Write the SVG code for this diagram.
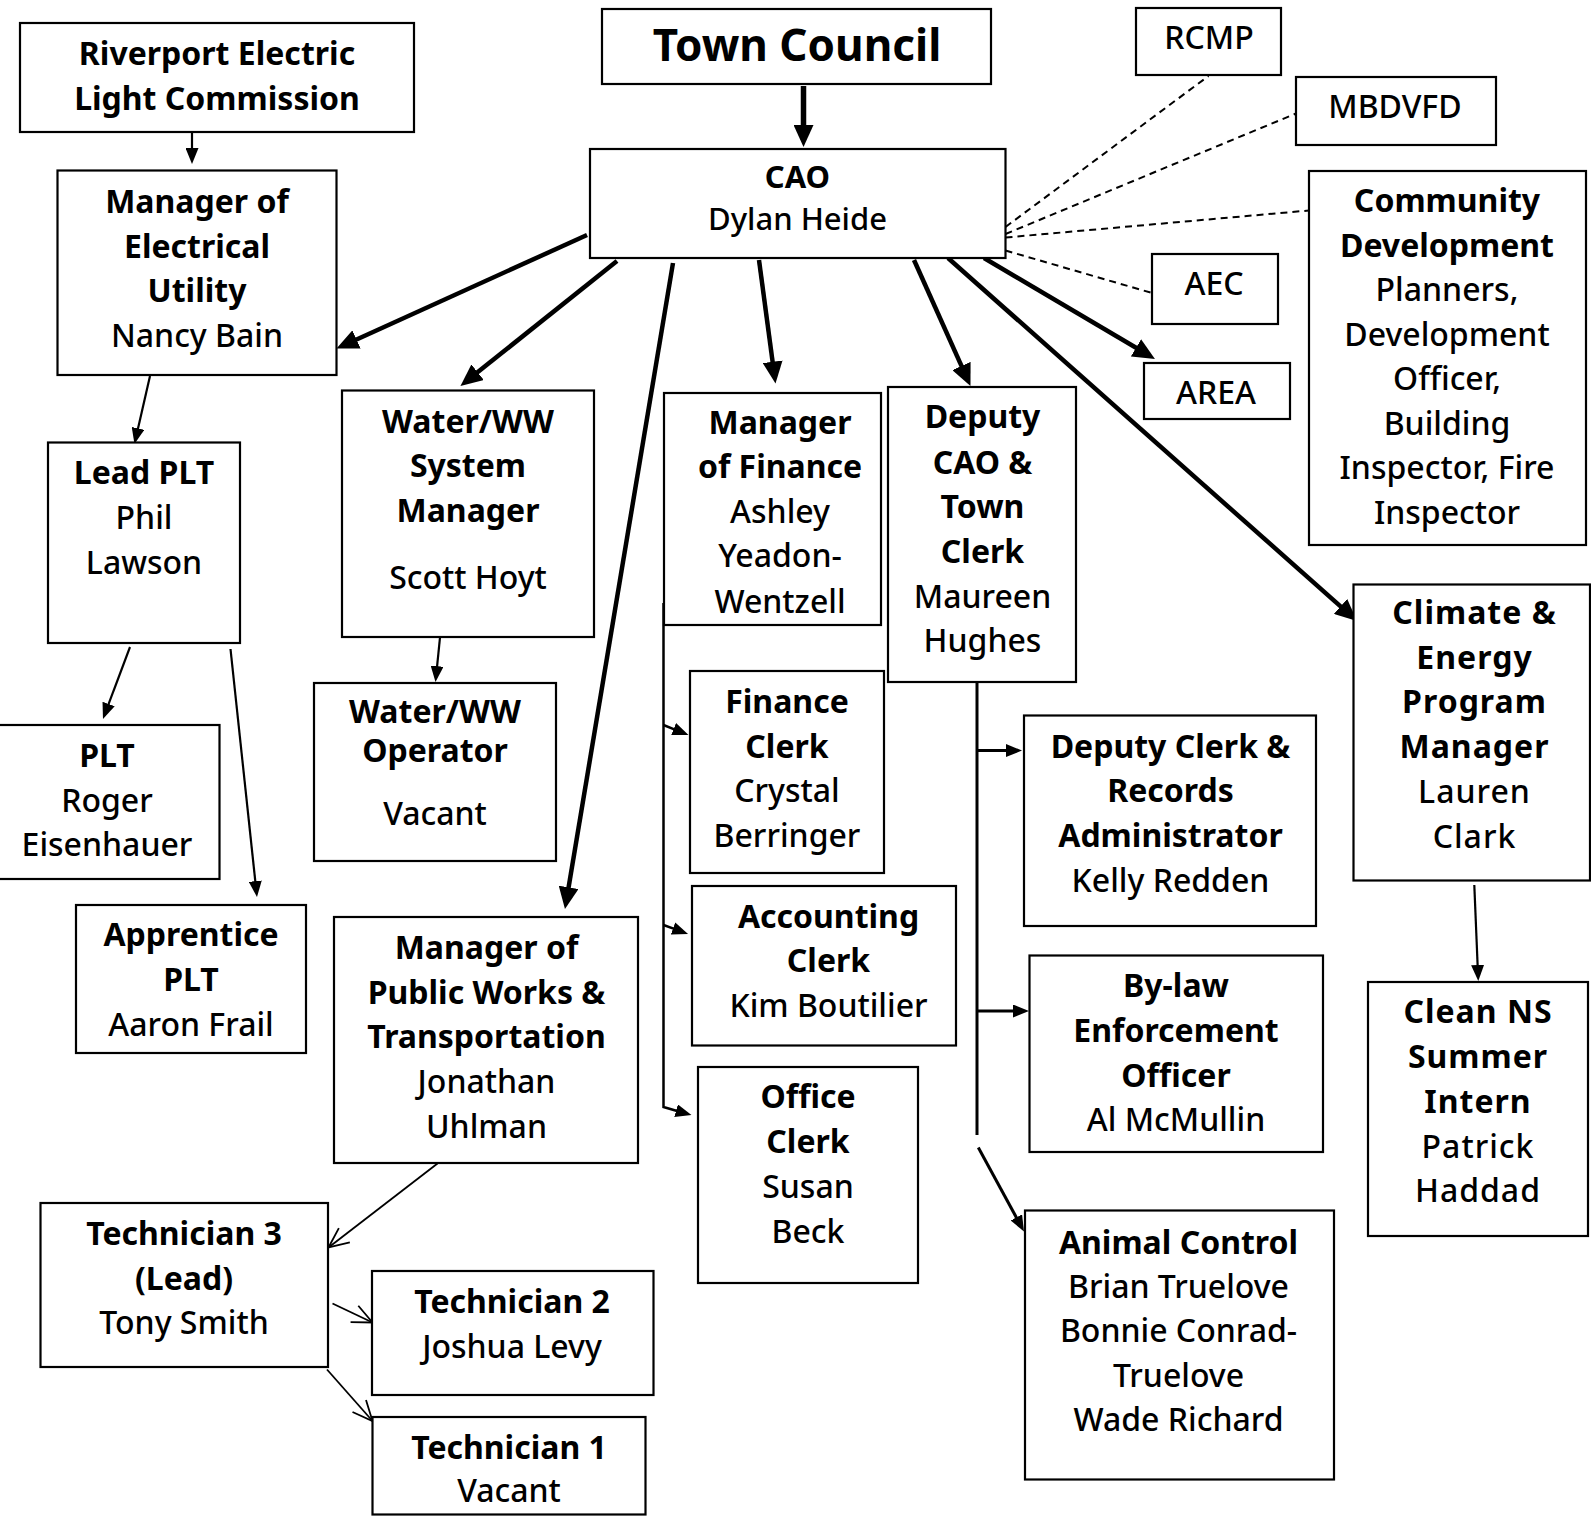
<svg xmlns="http://www.w3.org/2000/svg" width="1591" height="1522" viewBox="0 0 1591 1522">
<style>
.box{fill:#fff;stroke:#000;stroke-width:2.2}
text{font-family:"Noto Sans","Open Sans","DejaVu Sans",sans-serif;font-size:32px;fill:#000;text-anchor:middle}
.b{font-weight:700}
.r{font-weight:500}
.title{font-size:44px;font-weight:700}
.ls text{letter-spacing:1px}
.thick{stroke:#000;stroke-width:4.5;fill:none;marker-end:url(#ahThick)}
.thin{stroke:#000;stroke-width:2.2;fill:none;marker-end:url(#ahSmall)}
.med{stroke:#000;stroke-width:3;fill:none}
.open{stroke:#000;stroke-width:1.8;fill:none;marker-end:url(#ahOpen)}
.dash{stroke:#000;stroke-width:2;fill:none;stroke-dasharray:7 5}
</style>
<defs>
<marker id="ahThick" markerUnits="userSpaceOnUse" viewBox="0 0 22 20" markerWidth="22" markerHeight="20" refX="3" refY="10" orient="auto"><path d="M0,0 L22,10 L0,20 z" fill="#000"/></marker>
<marker id="ahSmall" markerUnits="userSpaceOnUse" viewBox="0 0 16 13" markerWidth="16" markerHeight="13" refX="2" refY="6.5" orient="auto"><path d="M0,0 L16,6.5 L0,13 z" fill="#000"/></marker>
<marker id="ahOpen" markerUnits="userSpaceOnUse" viewBox="-2 -2 24 24" markerWidth="24" markerHeight="24" refX="20" refY="10" orient="auto" overflow="visible"><path d="M0,1 L20,10 L0,19" fill="none" stroke="#000" stroke-width="1.8"/></marker>
</defs>
<rect x="0" y="0" width="1591" height="1522" fill="#fff"/>

<g id="connectors">
<line class="thick" x1="803.5" y1="86" x2="803.5" y2="128" style="stroke-width:5.5"/>
<line class="thick" x1="587" y1="235" x2="353.8" y2="340.7"/>
<line class="thick" x1="617" y1="261" x2="475.3" y2="374.1"/>
<line class="thick" x1="673" y1="263" x2="568.1" y2="890.3"/>
<line class="thick" x1="759" y1="260" x2="773" y2="364.7"/>
<line class="thick" x1="914" y1="260" x2="962.7" y2="368.7"/>
<line class="thick" x1="984" y1="258" x2="1138.6" y2="349.3"/>
<line class="thick" x1="948" y1="258" x2="1342.8" y2="608.4"/>

<line class="dash" x1="1005.5" y1="227" x2="1208.5" y2="76"/>
<line class="dash" x1="1005.5" y1="234" x2="1296" y2="113.5"/>
<line class="dash" x1="1005.5" y1="237.5" x2="1309" y2="210.5"/>
<line class="dash" x1="1005.5" y1="250.5" x2="1152" y2="293"/>

<line class="thin" x1="192" y1="132" x2="192" y2="150"/>
<line class="thin" x1="150" y1="376" x2="137.6" y2="430.3"/>
<line class="thin" x1="130" y1="647" x2="107.9" y2="705.9"/>
<line class="thin" x1="230.5" y1="649" x2="255.5" y2="883.1"/>
<line class="thin" x1="440" y1="637.5" x2="436.9" y2="668.1"/>
<line class="thin" x1="1474.3" y1="885" x2="1477.7" y2="967"/>

<path class="thin" d="M663.5,603 L663.5,1107 L678,1111.2" style="stroke-width:2.5"/>
<line class="thin" x1="663.5" y1="725" x2="675.5" y2="729.8" style="stroke-width:2.5"/>
<line class="thin" x1="663.5" y1="925" x2="674.9" y2="929.2" style="stroke-width:2.5"/>

<line class="med" x1="977" y1="682" x2="977" y2="1135"/>
<line class="med" x1="977" y1="750.5" x2="1008" y2="750.5" marker-end="url(#ahSmall)"/>
<line class="med" x1="977" y1="1011" x2="1015" y2="1011" marker-end="url(#ahSmall)"/>
<line class="med" x1="978.3" y1="1147.5" x2="1017.3" y2="1219.2" marker-end="url(#ahSmall)"/>

<line class="open" x1="437.5" y1="1163.5" x2="328.5" y2="1247.5"/>
<line class="open" x1="332.5" y1="1303.5" x2="372.5" y2="1322.5"/>
<line class="open" x1="327" y1="1369.5" x2="372.5" y2="1421"/>
</g>

<g id="riverport"><rect class="box" x="20" y="23" width="394" height="109"/>
<text class="b" x="217" y="65">Riverport Electric</text><text class="b" x="217" y="110">Light Commission</text></g>

<g id="town-council"><rect class="box" x="602" y="9" width="389" height="75"/>
<text class="title" x="797" y="61">Town Council</text></g>

<g id="cao"><rect class="box" x="590" y="149" width="415.5" height="109"/>
<text class="b" x="797.5" y="188" style="font-size:31px">CAO</text><text class="r" x="797.5" y="230" style="font-size:31px">Dylan Heide</text></g>

<g id="rcmp"><rect class="box" x="1136" y="8" width="145" height="67"/>
<text class="r" x="1209" y="49">RCMP</text></g>

<g id="mbdvfd"><rect class="box" x="1296" y="77" width="200" height="68"/>
<text class="r" x="1395" y="118">MBDVFD</text></g>

<g id="community-development"><rect class="box" x="1309" y="171" width="277" height="374"/>
<text class="b" x="1447" y="212">Community</text>
<text class="b" x="1447" y="256.5">Development</text>
<text class="r" x="1447" y="301">Planners,</text>
<text class="r" x="1447" y="345.5">Development</text>
<text class="r" x="1447" y="390">Officer,</text>
<text class="r" x="1447" y="434.5">Building</text>
<text class="r" x="1447" y="479">Inspector, Fire</text>
<text class="r" x="1447" y="523.5">Inspector</text></g>

<g id="aec"><rect class="box" x="1152" y="254" width="126" height="70"/>
<text class="r" x="1214" y="295">AEC</text></g>

<g id="area"><rect class="box" x="1144" y="363" width="146" height="56"/>
<text class="r" x="1216" y="404">AREA</text></g>

<g id="manager-electrical"><rect class="box" x="57.5" y="170.5" width="279" height="204.5"/>
<text class="b" x="197" y="213">Manager of</text>
<text class="b" x="197" y="258">Electrical</text>
<text class="b" x="197" y="302">Utility</text>
<text class="r" x="197" y="347">Nancy Bain</text></g>

<g id="lead-plt"><rect class="box" x="48" y="442.5" width="192" height="200.5"/>
<text class="b" x="144" y="484">Lead PLT</text>
<text class="r" x="144" y="529">Phil</text>
<text class="r" x="144" y="574">Lawson</text></g>

<g id="plt"><rect class="box" x="-2" y="725" width="221.5" height="154"/>
<text class="b" x="107" y="767">PLT</text>
<text class="r" x="107" y="812">Roger</text>
<text class="r" x="107" y="856">Eisenhauer</text></g>

<g id="apprentice-plt"><rect class="box" x="76" y="905" width="230" height="148"/>
<text class="b" x="191" y="946">Apprentice</text>
<text class="b" x="191" y="991">PLT</text>
<text class="r" x="191" y="1036">Aaron Frail</text></g>

<g id="water-system-manager"><rect class="box" x="342" y="390.5" width="252" height="246.5"/>
<text class="b" x="468" y="432.5">Water/WW</text>
<text class="b" x="468" y="477">System</text>
<text class="b" x="468" y="521.5">Manager</text>
<text class="r" x="468" y="589">Scott Hoyt</text></g>

<g id="water-operator"><rect class="box" x="314" y="683" width="242" height="178"/>
<text class="b" x="435" y="723">Water/WW</text>
<text class="b" x="435" y="762">Operator</text>
<text class="r" x="435" y="825">Vacant</text></g>

<g id="manager-finance"><rect class="box" x="664" y="393" width="217" height="232"/>
<text class="b" x="780" y="434">Manager</text>
<text class="b" x="780" y="478">of Finance</text>
<text class="r" x="780" y="523">Ashley</text>
<text class="r" x="780" y="567">Yeadon-</text>
<text class="r" x="780" y="612.5">Wentzell</text></g>

<g id="deputy-cao"><rect class="box" x="888" y="387" width="188" height="295"/>
<text class="b" x="982.5" y="428">Deputy</text>
<text class="b" x="982.5" y="473.5">CAO &amp;</text>
<text class="b" x="982.5" y="517.5">Town</text>
<text class="b" x="982.5" y="562.5">Clerk</text>
<text class="r" x="982.5" y="607.5">Maureen</text>
<text class="r" x="982.5" y="652">Hughes</text></g>

<g id="finance-clerk"><rect class="box" x="690" y="671" width="194" height="202"/>
<text class="b" x="787" y="713">Finance</text>
<text class="b" x="787" y="757.5">Clerk</text>
<text class="r" x="787" y="802">Crystal</text>
<text class="r" x="787" y="847">Berringer</text></g>

<g id="accounting-clerk"><rect class="box" x="692" y="886" width="264" height="159.5"/>
<text class="b" x="828.5" y="927.5">Accounting</text>
<text class="b" x="828.5" y="971.5">Clerk</text>
<text class="r" x="828.5" y="1016.5">Kim Boutilier</text></g>

<g id="office-clerk"><rect class="box" x="698" y="1067" width="220" height="216"/>
<text class="b" x="808" y="1107.5">Office</text>
<text class="b" x="808" y="1152.5">Clerk</text>
<text class="r" x="808" y="1197.5">Susan</text>
<text class="r" x="808" y="1242.5">Beck</text></g>

<g id="deputy-clerk"><rect class="box" x="1024" y="715.5" width="292" height="210.5"/>
<text class="b" x="1170.5" y="757.5">Deputy Clerk &amp;</text>
<text class="b" x="1170.5" y="802">Records</text>
<text class="b" x="1170.5" y="847">Administrator</text>
<text class="r" x="1170.5" y="891.5">Kelly Redden</text></g>

<g id="bylaw"><rect class="box" x="1029.5" y="955.5" width="293.5" height="196.5"/>
<text class="b" x="1176" y="997">By-law</text>
<text class="b" x="1176" y="1042">Enforcement</text>
<text class="b" x="1176" y="1087">Officer</text>
<text class="r" x="1176" y="1131">Al McMullin</text></g>

<g id="animal-control"><rect class="box" x="1025" y="1210.5" width="309" height="269"/>
<text class="b" x="1178.5" y="1253.5">Animal Control</text>
<text class="r" x="1178.5" y="1297.5">Brian Truelove</text>
<text class="r" x="1178.5" y="1341.5">Bonnie Conrad-</text>
<text class="r" x="1178.5" y="1386.5">Truelove</text>
<text class="r" x="1178.5" y="1431">Wade Richard</text></g>

<g id="climate-energy" class="ls"><rect class="box" x="1353.5" y="584.5" width="236.5" height="296"/>
<text class="b" x="1474.5" y="624">Climate &amp;</text>
<text class="b" x="1474.5" y="668.5">Energy</text>
<text class="b" x="1474.5" y="713">Program</text>
<text class="b" x="1474.5" y="757.5">Manager</text>
<text class="r" x="1474.5" y="803">Lauren</text>
<text class="r" x="1474.5" y="848">Clark</text></g>

<g id="clean-ns" class="ls"><rect class="box" x="1368" y="982" width="220" height="254"/>
<text class="b" x="1478" y="1023">Clean NS</text>
<text class="b" x="1478" y="1068">Summer</text>
<text class="b" x="1478" y="1113">Intern</text>
<text class="r" x="1478" y="1158">Patrick</text>
<text class="r" x="1478" y="1202">Haddad</text></g>

<g id="public-works"><rect class="box" x="334" y="917" width="304" height="246"/>
<text class="b" x="486.5" y="959">Manager of</text>
<text class="b" x="486.5" y="1003.5">Public Works &amp;</text>
<text class="b" x="486.5" y="1048">Transportation</text>
<text class="r" x="486.5" y="1093">Jonathan</text>
<text class="r" x="486.5" y="1138">Uhlman</text></g>

<g id="technician-3"><rect class="box" x="40.5" y="1203" width="287.5" height="164"/>
<text class="b" x="184" y="1245">Technician 3</text>
<text class="b" x="184" y="1290">(Lead)</text>
<text class="r" x="184" y="1334">Tony Smith</text></g>

<g id="technician-2"><rect class="box" x="372" y="1271" width="281.5" height="124"/>
<text class="b" x="512" y="1312.5">Technician 2</text>
<text class="r" x="512" y="1357.5">Joshua Levy</text></g>

<g id="technician-1"><rect class="box" x="372.5" y="1417" width="273" height="97.5"/>
<text class="b" x="509" y="1459">Technician 1</text>
<text class="r" x="509" y="1502">Vacant</text></g>
</svg>
